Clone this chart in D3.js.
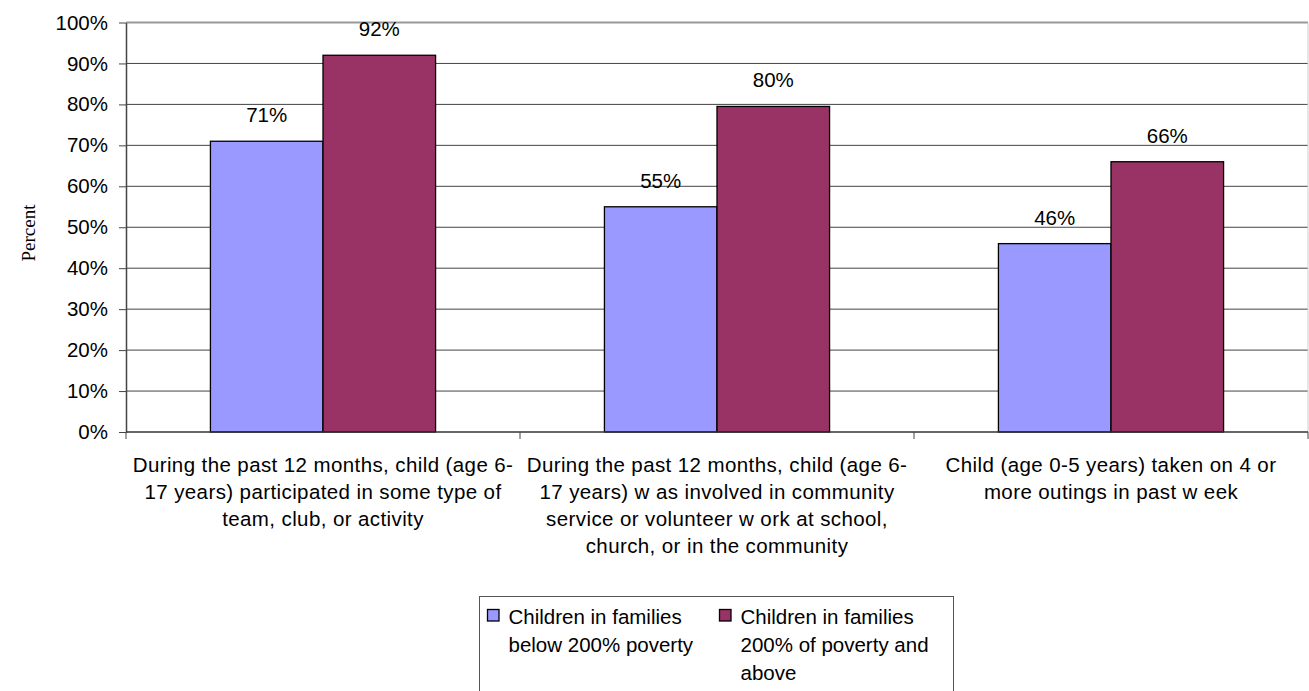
<!DOCTYPE html>
<html><head><meta charset="utf-8">
<script src="https://cdn.jsdelivr.net/npm/d3@7"></script>
<style>body{margin:0;background:#fff}svg{display:block}</style>
</head><body>
<svg id="c" width="1309" height="691"></svg>
<script>
const categories = [
  ["During the past 12 months, child (age 6-", "17 years) participated in some type of", "team, club, or activity"],
  ["During the past 12 months, child (age 6-", "17 years) w as involved in community", "service or volunteer w ork at school,", "church, or in the community"],
  ["Child (age 0-5 years) taken on 4 or", "more outings in past w eek"]
];
const seriesNames = [["Children in families", "below  200% poverty"], ["Children in families", "200% of poverty and", "above"]];
const below200 = [71, 55, 46];
const above200 = [92, 79.5, 66];
const yTicks = [0,10,20,30,40,50,60,70,80,90,100];
const colors = ["#9999FF", "#993366"];

const svg = d3.select("#c");
const font = "'Liberation Sans', Arial, sans-serif";
const FS = 20.5;
const L = 126, R = 1308, T = 22.5, B = 432;
const x = d3.scaleBand().domain([0,1,2]).range([L, R]).paddingInner(0).paddingOuter(0);
const y = d3.scaleLinear().domain([0, 100]).range([B, T]);
const inner = d3.scaleBand().domain([0,1]).range([0, x.bandwidth()]).paddingOuter(0.75).paddingInner(0);

// gridlines
svg.append("g").selectAll("line").data(yTicks.filter(d => d > 0)).join("line")
  .attr("x1", L).attr("x2", R).attr("y1", d => y(d)).attr("y2", d => y(d))
  .attr("stroke", d => d === 100 ? "#999" : "#444").attr("stroke-width", d => d === 100 ? 1.8 : 1);
svg.append("line").attr("x1", R).attr("x2", R).attr("y1", T).attr("y2", B).attr("stroke", "#ccc").attr("stroke-width", 1);

// bars
const data = [below200, above200];
data.forEach((vals, s) => {
  svg.append("g").selectAll("rect").data(vals).join("rect")
    .attr("x", (d, i) => x(i) + inner(s))
    .attr("y", d => y(d))
    .attr("width", inner.bandwidth())
    .attr("height", d => B - y(d))
    .attr("fill", colors[s]).attr("stroke", "#000").attr("stroke-width", 1.3);
  svg.append("g").selectAll("text").data(vals).join("text")
    .attr("x", (d, i) => x(i) + inner(s) + inner.bandwidth() / 2)
    .attr("y", d => y(d) - 19)
    .attr("text-anchor", "middle").attr("font-family", font).attr("font-size", FS).attr("fill", "#000")
    .text(d => Math.round(d) + "%");
});

// y axis
const yAxis = svg.append("g").attr("transform", `translate(${L},0)`)
  .call(d3.axisLeft(y).tickValues(yTicks).tickFormat(d => d + "%").tickSize(7).tickSizeOuter(0).tickPadding(11));
yAxis.select(".domain").attr("stroke", "#444").attr("stroke-width", 1.5);
yAxis.selectAll(".tick line").attr("stroke", "#444");
yAxis.selectAll("text").attr("font-family", font).attr("font-size", FS).attr("fill", "#000");

// x axis
svg.append("line").attr("x1", L).attr("x2", R).attr("y1", B).attr("y2", B).attr("stroke", "#333").attr("stroke-width", 1.5);
svg.append("g").selectAll("line").data([0,1,2,3]).join("line")
  .attr("x1", d => L + d * x.bandwidth()).attr("x2", d => L + d * x.bandwidth())
  .attr("y1", B).attr("y2", B + 7).attr("stroke", "#444");

// category labels
categories.forEach((lines, i) => {
  const t = svg.append("text").attr("text-anchor", "middle").attr("font-family", font)
    .attr("font-size", FS).attr("letter-spacing", 0.4).attr("fill", "#000");
  lines.forEach((ln, k) => t.append("tspan").attr("x", x(i) + x.bandwidth() / 2).attr("y", 471.5 + k * 27.3).text(ln));
});

// y title
svg.append("text").attr("transform", "translate(35,233) rotate(-90)").attr("text-anchor", "middle")
  .attr("font-family", "'Liberation Serif', 'Times New Roman', serif").attr("font-size", 19).text("Percent");

// legend
svg.append("rect").attr("x", 479.5).attr("y", 596.5).attr("width", 474).attr("height", 110).attr("fill", "#fff").attr("stroke", "#555");
const legX = [487.5, 719.5];
seriesNames.forEach((lines, s) => {
  svg.append("rect").attr("x", legX[s]).attr("y", 609.5).attr("width", 11.5).attr("height", 11.5)
    .attr("fill", colors[s]).attr("stroke", "#000").attr("stroke-width", 1.3);
  const t = svg.append("text").attr("font-family", font).attr("font-size", FS).attr("fill", "#000");
  lines.forEach((ln, k) => t.append("tspan").attr("x", legX[s] + 21).attr("y", 623.5 + k * 28).text(ln));
});
</script>
</body></html>
